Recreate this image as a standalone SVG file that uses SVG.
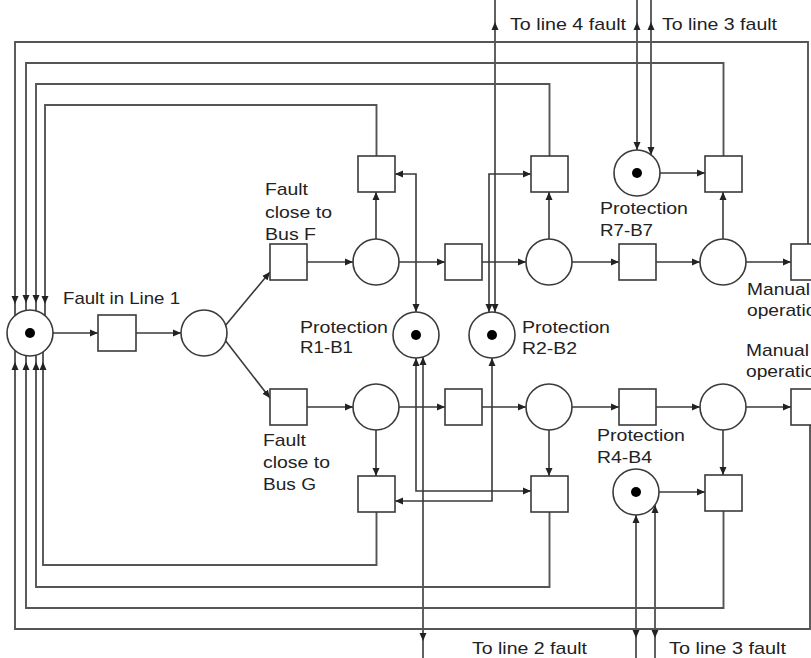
<svg xmlns="http://www.w3.org/2000/svg" xmlns:xlink="http://www.w3.org/1999/xlink" width="811" height="658" viewBox="0 0 811 658">
<style>
.n{fill:#fff;stroke:#3a3a3a;stroke-width:1.6}
.c{fill:none;stroke:#3a3a3a;stroke-width:1.6}
.o{fill:none;stroke:#555;stroke-width:1.9}
.tok{fill:#000}
text{font-family:"Liberation Sans",Arial,sans-serif;font-size:17px;fill:#222}
</style>
<defs>
<marker id="a" viewBox="0 0 8 8" refX="8" refY="4" markerWidth="8" markerHeight="8" markerUnits="userSpaceOnUse" orient="auto-start-reverse"><path d="M0,0.5 L8,4 L0,7.5 z" fill="#222"/></marker>
<path id="ah" d="M0,0 L-8,-3.5 L-8,3.5 z" fill="#222"/>
</defs>
<rect width="811" height="658" fill="#fff"/>
<g id="connectors">
<g class="c" marker-end="url(#a)">
<path d="M53,333 H98"/>
<path d="M136,333 H181"/>
<path d="M225,326 L270,272"/>
<path d="M225,340 L270,398"/>
<path d="M307,262 H353"/>
<path d="M399,262 H445"/>
<path d="M482,262 H526"/>
<path d="M572,262 H619"/>
<path d="M656,262 H700"/>
<path d="M746,262 H791"/>
<path d="M307,407 H353"/>
<path d="M399,407 H445"/>
<path d="M482,407 H526"/>
<path d="M572,407 H619"/>
<path d="M656,407 H700"/>
<path d="M746,407 H791"/>
<path d="M376,239 V192"/>
<path d="M549,239 V192"/>
<path d="M723,239 V192"/>
<path d="M660,173 H705"/>
<path d="M376,430 V476"/>
<path d="M549,430 V476"/>
<path d="M723,430 V475"/>
<path d="M659,492 H705"/>
<path d="M637,0 V150"/>
<path d="M651,0 V155"/>
</g>
<g class="c" marker-start="url(#a)" marker-end="url(#a)">
<path d="M416,312 V174 H395"/>
<path d="M489,312 V174 H531"/>
<path d="M416,358 V491 H531"/>
<path d="M492,358 V501 H395"/>
</g>
<g class="c" marker-start="url(#a)">
<path d="M495,312 V0"/>
<path d="M423,357 V658"/>
<path d="M636,515 V658"/>
<path d="M655,505 V658"/>
</g>
<g class="o">
<path d="M376.5,156 V105 H45 V316"/>
<path d="M549.5,156 V84 H36 V311"/>
<path d="M723.5,156 V63 H26 V310"/>
<path d="M808,244 V42 H15 V316"/>
<path d="M376.5,512 V565 H43 V352"/>
<path d="M549.5,512 V587 H36 V355"/>
<path d="M723.5,511 V608 H26 V355"/>
<path d="M810,425 V629 H15 V350"/>
</g>
<use xlink:href="#ah" transform="translate(45,304) rotate(90)"/>
<use xlink:href="#ah" transform="translate(36,303) rotate(90)"/>
<use xlink:href="#ah" transform="translate(26,303) rotate(90)"/>
<use xlink:href="#ah" transform="translate(15,304) rotate(90)"/>
<use xlink:href="#ah" transform="translate(43,362) rotate(-90)"/>
<use xlink:href="#ah" transform="translate(36,362) rotate(-90)"/>
<use xlink:href="#ah" transform="translate(26,362) rotate(-90)"/>
<use xlink:href="#ah" transform="translate(15,362) rotate(-90)"/>
<use xlink:href="#ah" transform="translate(495,22) rotate(-90)"/>
<use xlink:href="#ah" transform="translate(637,22) rotate(-90)"/>
<use xlink:href="#ah" transform="translate(651,22) rotate(-90)"/>
<use xlink:href="#ah" transform="translate(423,641) rotate(90)"/>
<use xlink:href="#ah" transform="translate(636,638) rotate(90)"/>
<use xlink:href="#ah" transform="translate(655,638) rotate(90)"/>
</g>
<g id="p0"><circle class="n" cx="30" cy="333" r="23"/><circle class="tok" cx="30" cy="333" r="5"/></g>
<g id="t-fault-line1"><rect class="n" x="98" y="315" width="38" height="36"/><text x="63" y="304" textLength="117" lengthAdjust="spacingAndGlyphs">Fault in Line 1</text></g>
<g id="p1"><circle class="n" cx="204" cy="333" r="23"/></g>
<g id="t-bus-f"><rect class="n" x="270" y="244" width="37" height="36"/>
<text x="265" y="195" textLength="43" lengthAdjust="spacingAndGlyphs">Fault</text>
<text x="265" y="218" textLength="67" lengthAdjust="spacingAndGlyphs">close to</text>
<text x="265" y="240" textLength="51" lengthAdjust="spacingAndGlyphs">Bus F</text></g>
<g id="t-bus-g"><rect class="n" x="270" y="389" width="37" height="36"/>
<text x="263" y="446" textLength="43" lengthAdjust="spacingAndGlyphs">Fault</text>
<text x="263" y="468" textLength="67" lengthAdjust="spacingAndGlyphs">close to</text>
<text x="263" y="490" textLength="53" lengthAdjust="spacingAndGlyphs">Bus G</text></g>
<g id="pf1"><circle class="n" cx="376" cy="262" r="23"/></g>
<g id="tmu"><rect class="n" x="445" y="244" width="37" height="36"/></g>
<g id="pf2"><circle class="n" cx="549" cy="262" r="23"/></g>
<g id="tr7"><rect class="n" x="619" y="244" width="37" height="36"/></g>
<g id="pf3"><circle class="n" cx="723" cy="262" r="23"/></g>
<g id="tman-u"><rect class="n" x="791" y="244" width="37" height="36"/>
<text x="747" y="295" textLength="63" lengthAdjust="spacingAndGlyphs">Manual</text>
<text x="747" y="316" textLength="80" lengthAdjust="spacingAndGlyphs">operation</text></g>
<g id="pg1"><circle class="n" cx="376" cy="407" r="23"/></g>
<g id="tml"><rect class="n" x="445" y="389" width="37" height="36"/></g>
<g id="pg2"><circle class="n" cx="549" cy="407" r="23"/></g>
<g id="tr4"><rect class="n" x="619" y="389" width="37" height="36"/></g>
<g id="pg3"><circle class="n" cx="723" cy="407" r="23"/></g>
<g id="tman-l"><rect class="n" x="791" y="389" width="37" height="36"/>
<text x="746" y="356" textLength="63" lengthAdjust="spacingAndGlyphs">Manual</text>
<text x="746" y="377" textLength="80" lengthAdjust="spacingAndGlyphs">operation</text></g>
<g id="ta"><rect class="n" x="358" y="156" width="37" height="36"/></g>
<g id="tb"><rect class="n" x="531" y="156" width="37" height="36"/></g>
<g id="tc"><rect class="n" x="705" y="156" width="37" height="36"/></g>
<g id="td"><rect class="n" x="358" y="476" width="37" height="36"/></g>
<g id="te"><rect class="n" x="531" y="476" width="37" height="36"/></g>
<g id="tf"><rect class="n" x="705" y="475" width="37" height="36"/></g>
<g id="r7"><circle class="n" cx="637" cy="173" r="23"/><circle class="tok" cx="637" cy="173" r="5"/>
<text x="600" y="214" textLength="88" lengthAdjust="spacingAndGlyphs">Protection</text>
<text x="600" y="236" textLength="53" lengthAdjust="spacingAndGlyphs">R7-B7</text></g>
<g id="r1"><circle class="n" cx="416" cy="335" r="23"/><circle class="tok" cx="416" cy="335" r="5"/>
<text x="300" y="333" textLength="88" lengthAdjust="spacingAndGlyphs">Protection</text>
<text x="300" y="353" textLength="53" lengthAdjust="spacingAndGlyphs">R1-B1</text></g>
<g id="r2"><circle class="n" cx="492" cy="335" r="23"/><circle class="tok" cx="492" cy="335" r="5"/>
<text x="522" y="333" textLength="88" lengthAdjust="spacingAndGlyphs">Protection</text>
<text x="522" y="354" textLength="55" lengthAdjust="spacingAndGlyphs">R2-B2</text></g>
<g id="r4"><circle class="n" cx="636" cy="492" r="23"/><circle class="tok" cx="636" cy="492" r="5"/>
<text x="597" y="441" textLength="88" lengthAdjust="spacingAndGlyphs">Protection</text>
<text x="597" y="463" textLength="55" lengthAdjust="spacingAndGlyphs">R4-B4</text></g>
<g id="ext-labels">
<text x="510" y="30" textLength="116" lengthAdjust="spacingAndGlyphs">To line 4 fault</text>
<text x="662" y="30" textLength="115" lengthAdjust="spacingAndGlyphs">To line 3 fault</text>
<text x="472" y="654" textLength="115" lengthAdjust="spacingAndGlyphs">To line 2 fault</text>
<text x="669" y="654" textLength="117" lengthAdjust="spacingAndGlyphs">To line 3 fault</text>
</g>
</svg>
